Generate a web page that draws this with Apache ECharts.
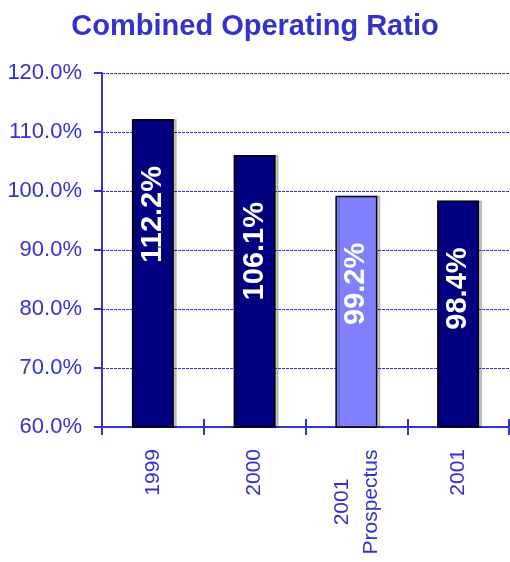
<!DOCTYPE html>
<html>
<head>
<meta charset="utf-8">
<script src="https://cdn.jsdelivr.net/npm/echarts@6/dist/echarts.min.js"></script>
<style>
  html, body { margin: 0; padding: 0; background: #fff; }
  #grafica { width: 510px; height: 562px; }
</style>
</head>
<body>
<div id="grafica"></div>
<script>
const categorias = ["1999", "2000", "2001\nProspectus", "2001"];
const valores = [112.2, 106.1, 99.2, 98.4];
const colores = ["#000080", "#000080", "#8080FF", "#000080"];
const azul = "#3333CC";

const getOptionChart = () => {
  return {
    title: {
      text: "Combined Operating Ratio",
      left: "center",
      top: 7,
      textStyle: { color: azul, fontSize: 29, fontWeight: "bold", fontFamily: "Liberation Sans" },
    },
    grid: { left: 102, right: 1, top: 73, bottom: 135 },
    xAxis: [
      {
        type: "category",
        data: categorias,
        axisLine: { lineStyle: { color: azul, width: 2 } },
        axisTick: { show: true, length: 8, lineStyle: { color: azul, width: 2 } },
        axisLabel: {
          rotate: 90,
          color: azul,
          fontSize: 21,
          fontFamily: "Liberation Sans",
          margin: 22,
          align: "right",
          formatter: (v) =>
            v.includes("\n")
              ? v.split("\n").map((t) => "{c|" + t + "}").join("\n")
              : v,
          rich: {
            c: {
              width: 106,
              align: "center",
              fontSize: 21,
              lineHeight: 29,
              color: azul,
              fontFamily: "Liberation Sans",
            },
          },
        },
      },
      {
        type: "category",
        data: categorias,
        position: "bottom",
        axisLine: { show: false },
        axisTick: { show: true, inside: true, length: 8, lineStyle: { color: azul, width: 2 } },
        axisLabel: { show: false },
      },
    ],
    yAxis: {
      type: "value",
      min: 60,
      max: 120,
      interval: 10,
      axisLine: { show: true, lineStyle: { color: azul, width: 2 } },
      axisTick: { show: true, length: 8, lineStyle: { color: azul, width: 2 } },
      axisLabel: {
        color: azul,
        fontSize: 22,
        fontFamily: "Liberation Sans",
        margin: 20,
        formatter: (v) => v.toFixed(1) + "%",
      },
      splitLine: { lineStyle: { color: azul, type: [3, 1], width: 1 } },
    },
    series: [
      {
        type: "bar",
        barWidth: 42,
        data: valores.map((v, i) => ({ value: v, itemStyle: { color: colores[i] } })),
        itemStyle: {
          borderColor: "#000",
          borderWidth: 1.5,
          shadowColor: "rgba(0,0,0,0.2)",
          shadowOffsetX: 3,
          shadowOffsetY: 0,
        },
        label: {
          show: true,
          position: "insideTop",
          distance: 47,
          rotate: 90,
          align: "right",
          verticalAlign: "middle",
          color: "#fff",
          fontSize: 29,
          fontWeight: "bold",
          fontFamily: "Liberation Sans",
          formatter: (p) => p.value.toFixed(1) + "%",
        },
      },
    ],
  };
};

const chart = echarts.init(document.querySelector("#grafica"));
chart.setOption(getOptionChart());
</script>
</body>
</html>
